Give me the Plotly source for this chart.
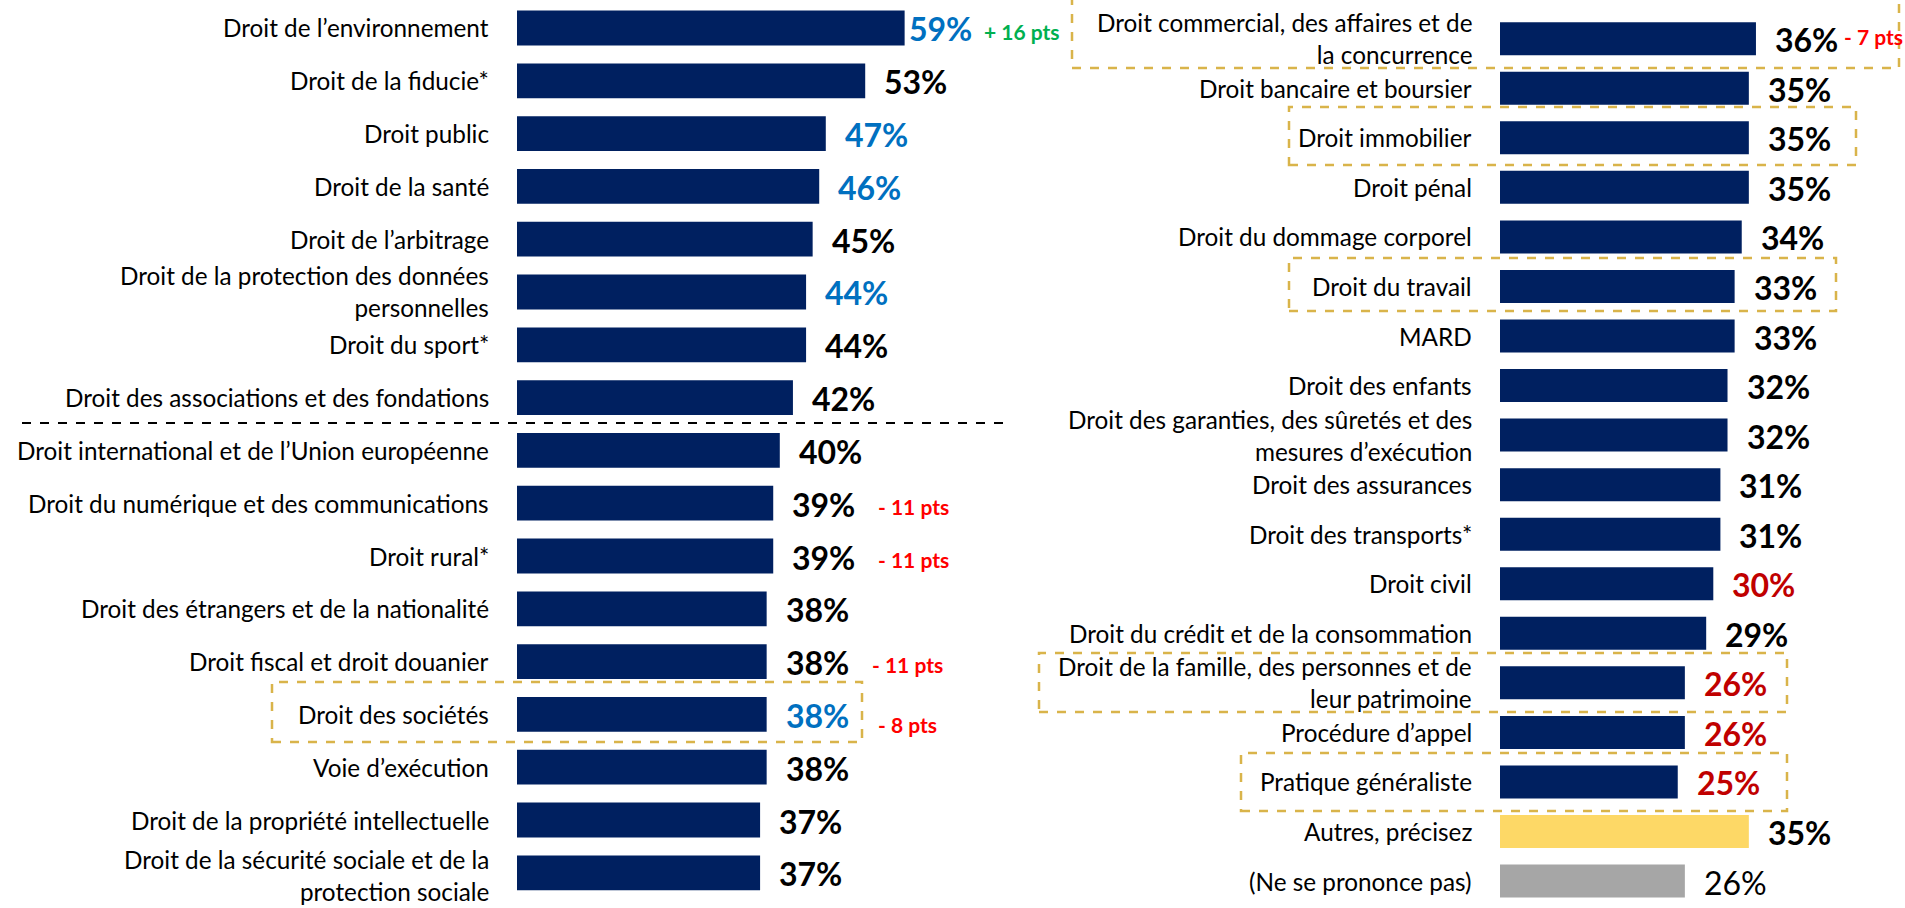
import plotly.graph_objects as go

W, H = 1905, 908

# ---------------- data ----------------
left_labels = [
    "Droit de l’environnement",
    "Droit de la fiducie*",
    "Droit public",
    "Droit de la santé",
    "Droit de l’arbitrage",
    "Droit de la protection des données<br>personnelles",
    "Droit du sport*",
    "Droit des associations et des fondations",
    "Droit international et de l’Union européenne",
    "Droit du numérique et des communications",
    "Droit rural*",
    "Droit des étrangers et de la nationalité",
    "Droit fiscal et droit douanier",
    "Droit des sociétés",
    "Voie d’exécution",
    "Droit de la propriété intellectuelle",
    "Droit de la sécurité sociale et de la<br>protection sociale",
]
left_values = [59, 53, 47, 46, 45, 44, 44, 42, 40, 39, 39, 38, 38, 38, 38, 37, 37]
left_value_colors = ["#0070C0", "#000000", "#0070C0", "#0070C0", "#000000", "#0070C0",
                     "#000000", "#000000", "#000000", "#000000", "#000000", "#000000",
                     "#000000", "#0070C0", "#000000", "#000000", "#000000"]
left_changes = {0: ("+ 16 pts", "#00B050"), 9: ("- 11 pts", "#FF0000"),
                10: ("- 11 pts", "#FF0000"), 12: ("- 11 pts", "#FF0000"),
                13: ("- 8 pts", "#FF0000")}

right_labels = [
    "Droit commercial, des affaires et de<br>la concurrence",
    "Droit bancaire et boursier",
    "Droit immobilier",
    "Droit pénal",
    "Droit du dommage corporel",
    "Droit du travail",
    "MARD",
    "Droit des enfants",
    "Droit des garanties, des sûretés et des<br>mesures d’exécution",
    "Droit des assurances",
    "Droit des transports*",
    "Droit civil",
    "Droit du crédit et de la consommation",
    "Droit de la famille, des personnes et de<br>leur patrimoine",
    "Procédure d’appel",
    "Pratique généraliste",
    "Autres, précisez",
    "(Ne se prononce pas)",
]
right_values = [36, 35, 35, 35, 34, 33, 33, 32, 32, 31, 31, 30, 29, 26, 26, 25, 35, 26]
right_value_colors = ["#000000"] * 11 + ["#C00000", "#000000", "#C00000", "#C00000",
                                         "#C00000", "#000000", "#000000"]
right_bar_colors = ["#002060"] * 16 + ["#FDD866", "#A6A6A6"]
right_changes = {0: ("- 7 pts", "#FF0000")}

NAVY = "#002060"
GOLD = "#D9B44A"
FONT = "Lato"
LABEL_SIZE = 24.3
VALUE_SIZE = 32
CHANGE_SIZE = 21

fig = go.Figure()

fig.add_trace(go.Bar(
    y=list(range(len(left_labels))), x=left_values, orientation="h",
    marker=dict(color=NAVY, line=dict(width=0)), width=0.66,
    xaxis="x", yaxis="y", hoverinfo="skip", showlegend=False))

fig.add_trace(go.Bar(
    y=list(range(len(right_labels))), x=right_values, orientation="h",
    marker=dict(color=right_bar_colors, line=dict(width=0)), width=0.666,
    xaxis="x2", yaxis="y2", hoverinfo="skip", showlegend=False))

annotations = []

def add_labels(labels, values, vcolors, xr, yr, first_shift, y_tweaks, nonbold):
    for i, (lab, v, c) in enumerate(zip(labels, values, vcolors)):
        annotations.append(dict(
            x=0, y=i, xref=xr, yref=yr, text=lab, showarrow=False,
            xanchor="right", yanchor="middle", align="right", xshift=-26,
            yshift=y_tweaks.get(i, 0),
            font=dict(family=FONT, size=LABEL_SIZE, color="#000000")))
        txt = f"{v}%" if i in nonbold else f"<b>{v}%</b>"
        annotations.append(dict(
            x=v, y=i, xref=xr, yref=yr, text=txt, showarrow=False,
            xanchor="left", yanchor="middle", xshift=first_shift.get(i, 17), yshift=-1,
            font=dict(family=FONT, size=VALUE_SIZE, color=c)))

add_labels(left_labels, left_values, left_value_colors, "x", "y",
           {0: 2}, {16: -3}, set())
add_labels(right_labels, right_values, right_value_colors, "x2", "y2",
           {}, {}, {17})

# change annotations (offset from the value position)
left_change_pos = {0: (77, -4), 9: (103, -3), 10: (103, -3), 12: (103, -3), 13: (109, -10)}
for i, (t, c) in left_changes.items():
    dx, dy = left_change_pos[i]
    annotations.append(dict(
        x=left_values[i], y=i, xref="x", yref="y", text=f"<b>{t}</b>", showarrow=False,
        xanchor="left", yanchor="middle", xshift=dx, yshift=dy,
        font=dict(family=FONT, size=CHANGE_SIZE, color=c)))
for i, (t, c) in right_changes.items():
    annotations.append(dict(
        x=right_values[i], y=i, xref="x2", yref="y2", text=f"<b>{t}</b>", showarrow=False,
        xanchor="left", yanchor="middle", xshift=86, yshift=2,
        font=dict(family=FONT, size=CHANGE_SIZE, color=c)))

# ---------------- decorative boxes (pixel based) ----------------
def px(x, y):
    return x / W, 1 - y / H

shapes = []
def dashed_box(x0, y0, x1, y1):
    a, b = px(x0, y0)
    c, d = px(x1, y1)
    shapes.append(dict(type="rect", xref="paper", yref="paper", x0=a, y0=d, x1=c, y1=b,
                       line=dict(color=GOLD, width=2.5, dash="dash"),
                       fillcolor="rgba(0,0,0,0)", layer="below"))

dashed_box(272, 682, 862, 742)      # Droit des sociétés
dashed_box(1072, -5, 1899, 68)      # Droit commercial
dashed_box(1289, 107, 1856, 165)    # Droit immobilier
dashed_box(1289, 258, 1836, 311)    # Droit du travail
dashed_box(1039, 653, 1787, 712)    # Droit de la famille
dashed_box(1241, 753, 1787, 811)    # Pratique généraliste

a, b = px(22, 423)
c, _ = px(1003, 423)
shapes.append(dict(type="line", xref="paper", yref="paper", x0=a, x1=c, y0=b, y1=b,
                   line=dict(color="#000000", width=2, dash="dash")))

fig.update_layout(
    width=W, height=H,
    margin=dict(l=0, r=0, t=0, b=0),
    paper_bgcolor="white", plot_bgcolor="white",
    xaxis=dict(domain=[517 / W, (517 + 657) / W], range=[0, 100], visible=False, fixedrange=True),
    yaxis=dict(domain=[1 - 899.2 / H, 1 - 1.6 / H], range=[16.5, -0.5], visible=False, fixedrange=True),
    xaxis2=dict(domain=[1500 / W, (1500 + 355.5) / W], range=[0, 50], visible=False,
                anchor="y2", fixedrange=True),
    yaxis2=dict(domain=[1 - 905.825 / H, 1 - 13.925 / H], range=[17.5, -0.5], visible=False,
                anchor="x2", fixedrange=True),
    annotations=annotations,
    shapes=shapes,
    font=dict(family=FONT),
)

fig.write_html("out.html",
               config={"displayModeBar": False},
               post_script="document.body.style.margin='0';document.body.style.overflow='hidden';")
